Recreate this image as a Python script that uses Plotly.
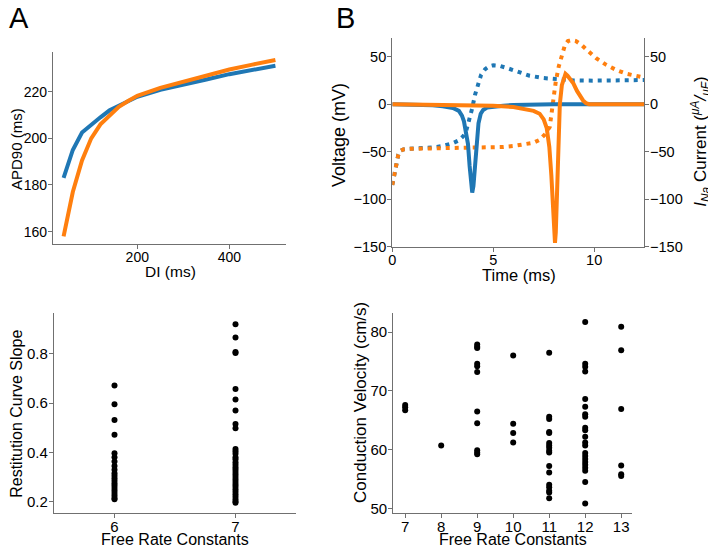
import plotly.graph_objects as go

# ---------------- Panel A: restitution curves ----------------
di_ms = [40, 60, 80, 100, 120, 140, 160, 180, 200, 250, 300, 350, 400, 450, 500]
apd_blue = [183, 195, 202.5, 206, 209, 212, 214, 216, 217.8, 220.8, 223.2, 225.2, 227.5, 229.5, 231.1]
apd_orange = [158, 177, 190.5, 200, 206, 210, 213.5, 216, 218.2, 221.6, 224.3, 226.8, 229.5, 231.6, 233.6]

# ---------------- Panel B: action potential & I_Na ----------------
t_blue_v = [0, 0.1, 0.2, 0.3, 0.4, 0.55, 0.8, 1.5, 2.0, 2.5, 3.0, 3.3, 3.5, 3.65, 3.8, 3.95,
            4.1, 4.25, 4.4, 4.6, 4.8, 5.0, 5.3, 5.7, 6.2, 6.8, 7.5, 8.2, 9.0, 10, 11, 12.5]
v_blue = [-85, -74, -62, -53, -49, -47.5, -47, -46.5, -45.5, -44, -41, -38, -34, -29, -18, -5,
          10, 22, 31, 37, 40, 41, 40.5, 38, 34, 30, 27.5, 26, 25, 24.8, 25, 25.5]

t_orange_v = [0, 0.1, 0.2, 0.3, 0.4, 0.55, 0.8, 2.0, 3.0, 4.0, 5.0, 5.5, 6.0, 6.5, 7.0, 7.3, 7.55,
              7.8, 7.96, 8.1, 8.25, 8.4, 8.55, 8.7, 8.9, 9.1, 9.4, 9.7, 10.1, 10.6, 11.1, 11.6, 12.2, 12.5]
v_orange = [-85, -74, -62, -53, -49, -47.5, -47, -46.5, -46.2, -46, -45.5, -45, -44, -42.5, -40.5, -37.5, -32,
            -24, 4, 24, 40, 53, 62, 66.5, 67.5, 66.5, 62, 56, 48.5, 41.5, 36, 32, 29, 28]

t_blue_i = [0, 1.0, 2.0, 2.5, 3.0, 3.3, 3.45, 3.55, 3.65, 3.75, 3.83, 3.9, 3.96, 4.02, 4.1, 4.18,
            4.27, 4.38, 4.5, 4.7, 5.0, 5.5, 6.0, 7.0, 8.0, 12.5]
i_blue = [0, -0.3, -1.2, -2.2, -4, -7, -12, -18, -28, -42, -65, -85, -93, -86, -62, -38,
          -20, -10, -6, -3.5, -2.5, -1.5, -0.8, -0.2, 0, 0]

t_orange_i = [0, 3, 5, 6, 6.5, 7.0, 7.3, 7.5, 7.65, 7.78, 7.88, 7.96, 8.02, 8.06, 8.1, 8.15, 8.2,
              8.25, 8.3, 8.4, 8.5, 8.58, 8.68, 8.8, 8.97, 9.15, 9.3, 9.45, 9.6, 9.75, 10, 12.5]
i_orange = [0, -0.5, -1.5, -3, -4.5, -7, -10, -16, -25, -45, -75, -115, -140, -146, -135, -100, -60,
            -25, 0, 20, 29, 32, 30, 27, 22, 14, 9, 4, 1, 0, 0, 0]

# ---------------- Panel C: restitution slope vs free rate constants ----------------
slope_6 = [0.672, 0.596, 0.532, 0.472, 0.396, 0.380, 0.363, 0.345, 0.329, 0.315, 0.305, 0.295,
           0.285, 0.275, 0.265, 0.255, 0.245, 0.235, 0.225, 0.215, 0.21]
slope_7 = [0.921, 0.867, 0.808, 0.804, 0.658, 0.615, 0.570, 0.515, 0.498, 0.414, 0.405, 0.394,
           0.380, 0.372, 0.360, 0.350, 0.340, 0.330, 0.320, 0.310, 0.300, 0.290, 0.280, 0.270,
           0.260, 0.250, 0.240, 0.230, 0.220, 0.210, 0.200, 0.195]

# ---------------- Panel D: conduction velocity vs free rate constants ----------------
cv_groups = {
    7: [67.6, 67.2, 66.7],
    8: [60.7],
    9: [77.9, 77.5, 77.3, 74.6, 74.2, 73.2, 66.5, 64.5, 59.9, 59.5, 59.2],
    10: [76.0, 64.4, 62.8, 61.2],
    11: [76.5, 65.6, 65.2, 63.0, 62.8, 61.1, 60.7, 60.3, 59.8, 59.5, 57.2, 56.1, 54.0, 53.6, 53.0, 52.7, 51.7],
    12: [81.7, 74.6, 74.1, 73.3, 68.6, 67.3, 66.0, 65.6, 63.7, 63.3, 62.2, 61.2, 60.7, 59.4, 58.9,
         58.4, 57.9, 57.4, 56.9, 56.4, 54.5, 50.8],
    13: [80.9, 76.9, 66.9, 57.3, 55.8, 55.5],
}

BLUE = "#1f77b4"
ORANGE = "#ff7f0e"
AX = "#707070"
FONT = "Liberation Sans, Arial, sans-serif"
# page body has an 8px margin: the figure is placed at (8, 8) in the 716x547 window
OFF = 8
W, H = 716 - OFF, 547 - OFF

fig = go.Figure()

# Panel A
fig.add_trace(go.Scatter(x=di_ms, y=apd_blue, mode="lines", line=dict(color=BLUE, width=4),
                         xaxis="x", yaxis="y", showlegend=False))
fig.add_trace(go.Scatter(x=di_ms, y=apd_orange, mode="lines", line=dict(color=ORANGE, width=4),
                         xaxis="x", yaxis="y", showlegend=False))

# Panel B
dotted = "4px,5px"
fig.add_trace(go.Scatter(x=t_blue_v, y=v_blue, mode="lines", line=dict(color=BLUE, width=4, dash=dotted),
                         xaxis="x2", yaxis="y2", showlegend=False))
fig.add_trace(go.Scatter(x=t_orange_v, y=v_orange, mode="lines", line=dict(color=ORANGE, width=4, dash=dotted),
                         xaxis="x2", yaxis="y2", showlegend=False))
fig.add_trace(go.Scatter(x=t_blue_i, y=i_blue, mode="lines", line=dict(color=BLUE, width=4),
                         xaxis="x2", yaxis="y5", showlegend=False))
fig.add_trace(go.Scatter(x=t_orange_i, y=i_orange, mode="lines", line=dict(color=ORANGE, width=4),
                         xaxis="x2", yaxis="y5", showlegend=False))

# Panel C
fig.add_trace(go.Scatter(x=[6] * len(slope_6) + [7] * len(slope_7), y=slope_6 + slope_7, mode="markers",
                         marker=dict(color="black", size=6), xaxis="x3", yaxis="y3", showlegend=False))

# Panel D
cx, cy = [], []
for k, vals in cv_groups.items():
    cx += [k] * len(vals)
    cy += vals
fig.add_trace(go.Scatter(x=cx, y=cy, mode="markers", marker=dict(color="black", size=6),
                         xaxis="x4", yaxis="y4", showlegend=False))


def px_dom_x(a, b):
    return [(a - OFF) / W, (b - OFF) / W]


def px_dom_y(top, bottom):
    return [1 - (bottom - OFF) / H, 1 - (top - OFF) / H]


def px_x(p):
    return (p - OFF) / W


def px_y(p):
    return 1 - (p - OFF) / H


axis_common = dict(showline=True, linecolor=AX, linewidth=1.3, ticks="outside", ticklen=4,
                   tickcolor=AX, tickwidth=1.3, showgrid=False, zeroline=False, automargin=False,
                   tickfont=dict(family=FONT, size=14, color="black"))


def ax(**kw):
    d = dict(axis_common)
    d.update(kw)
    return d


def xax(**kw):
    return ax(ticklabelstandoff=-4, **kw)


def yax(**kw):
    return ax(ticklabelstandoff=-2, **kw)


tick_top = dict(family=FONT, size=14.5, color="black")
tick_bot = dict(family=FONT, size=15, color="black")


def label(text, cx, cy, size, angle=0):
    return dict(text=text, x=px_x(cx), y=px_y(cy), xref="paper", yref="paper",
                xanchor="center", yanchor="middle", textangle=angle, showarrow=False,
                font=dict(family=FONT, size=size, color="black"))


fig.update_layout(
    width=W, height=H, margin=dict(l=0, r=0, t=0, b=0, autoexpand=False),
    paper_bgcolor="white", plot_bgcolor="white",
    font=dict(family=FONT, color="black"),
    xaxis=xax(domain=px_dom_x(53, 286), range=[17, 523], tickvals=[200, 400], anchor="y"),
    yaxis=yax(domain=px_dom_y(52, 244), range=[154.7, 237], tickvals=[160, 180, 200, 220], anchor="x"),
    xaxis2=xax(domain=px_dom_x(392.3, 644), range=[0, 12.47], tickvals=[0, 5, 10], anchor="y2",
               tickfont=tick_top),
    yaxis2=yax(domain=px_dom_y(38.3, 246.7), range=[-150, 69.4], tickvals=[-150, -100, -50, 0, 50], anchor="x2",
               tickfont=tick_top),
    yaxis5=yax(overlaying="y2", side="right", range=[-150, 69.4], tickvals=[-150, -100, -50, 0, 50], anchor="x2",
               tickfont=tick_top),
    xaxis3=xax(domain=px_dom_x(54, 296), range=[5.5, 7.5], tickvals=[6, 7], anchor="y3", tickfont=tick_bot),
    yaxis3=yax(domain=px_dom_y(313.3, 512.7), range=[0.155, 0.965], tickvals=[0.2, 0.4, 0.6, 0.8],
               ticktext=["0.2", "0.4", "0.6", "0.8"], anchor="x3", tickfont=tick_bot),
    xaxis4=xax(domain=px_dom_x(393.3, 632), range=[6.67, 13.3], tickvals=[7, 8, 9, 10, 11, 12, 13],
               anchor="y4", tickfont=tick_bot),
    yaxis4=yax(domain=px_dom_y(313.3, 513.3), range=[49.15, 83.2], tickvals=[50, 60, 70, 80], anchor="x4",
               tickfont=tick_bot),
    annotations=[
        label("A", 19, 18, 29),
        label("B", 345, 18, 29),
        label("DI (ms)", 170, 271, 15.5),
        label("APD90 (ms)", 16, 149, 15, -90),
        label("Time (ms)", 519, 275, 16.5),
        label("Voltage (mV)", 339, 135, 18, -90),
        label("<i>I<sub>Na</sub></i> Current (<i><sup>μA</sup>/<sub>μF</sub></i>)", 701, 141.7, 17, -90),
        label("Free Rate Constants", 174.7, 539.5, 16),
        label("Restitution Curve Slope", 17, 413.8, 16, -90),
        label("Free Rate Constants", 513, 539.5, 16),
        label("Conduction Velocity (cm/s)", 360.5, 402.5, 17, -90),
    ],
)

fig.write_html("out.html")
